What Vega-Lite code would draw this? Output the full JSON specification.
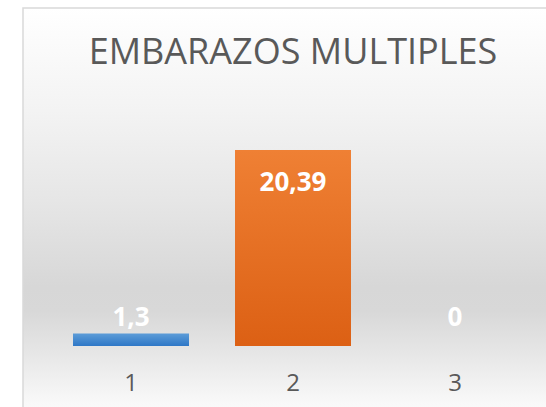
{
  "$schema": "https://vega.github.io/schema/vega-lite/v6.json",
  "autosize": {"type": "none"},
  "padding": {"left": 23, "top": 8, "right": 0, "bottom": 0},
  "width": 540,
  "height": 410,
  "background": "#ffffff",
  "title": {
    "text": "EMBARAZOS MULTIPLES",
    "font": "Open Sans",
    "fontSize": 36,
    "fontWeight": "normal",
    "color": "#595959",
    "anchor": "middle",
    "baseline": "alphabetic",
    "offset": -57,
    "dy": 35
  },
  "view": {
    "stroke": "#d9d9d9",
    "strokeWidth": 1.5,
    "fill": {
      "gradient": "linear",
      "x1": 0, "y1": 0, "x2": 0, "y2": 1,
      "stops": [
        {"offset": 0, "color": "#ffffff"},
        {"offset": 0.25, "color": "#f3f3f3"},
        {"offset": 0.47, "color": "#e6e6e6"},
        {"offset": 0.68, "color": "#d7d7d7"},
        {"offset": 0.74, "color": "#d8d8d8"},
        {"offset": 0.84, "color": "#e6e6e6"},
        {"offset": 0.96, "color": "#f8f8f8"},
        {"offset": 1, "color": "#fdfdfd"}
      ]
    }
  },
  "data": {
    "values": [
      {"cat": "1", "value": 1.3, "label": "1,3"},
      {"cat": "2", "value": 20.39, "label": "20,39"},
      {"cat": "3", "value": 0, "label": "0"}
    ]
  },
  "encoding": {
    "x": {
      "field": "cat",
      "type": "nominal",
      "sort": null,
      "scale": {"paddingInner": 0.284, "paddingOuter": 0.3087, "align": 0.5},
      "axis": {
        "title": null,
        "labelAngle": 0,
        "domain": false,
        "ticks": false,
        "tickSize": 0,
        "grid": false,
        "offset": -72,
        "labelPadding": 44,
        "labelBaseline": "alphabetic",
        "labelFont": "Open Sans",
        "labelFontSize": 24,
        "labelColor": "#595959"
      }
    }
  },
  "layer": [
    {
      "transform": [{"filter": "datum.cat == '1'"}],
      "mark": {
        "type": "bar",
        "color": {
          "gradient": "linear",
          "x1": 0, "y1": 0, "x2": 0, "y2": 1,
          "stops": [
            {"offset": 0, "color": "#5c9cd8"},
            {"offset": 1, "color": "#2e77c6"}
          ]
        }
      },
      "encoding": {
        "y": {
          "field": "value",
          "type": "quantitative",
          "scale": {"domain": [-7.49, 35.16], "nice": false, "zero": false},
          "axis": null
        }
      }
    },
    {
      "transform": [{"filter": "datum.cat == '2'"}],
      "mark": {
        "type": "bar",
        "color": {
          "gradient": "linear",
          "x1": 0, "y1": 0, "x2": 0, "y2": 1,
          "stops": [
            {"offset": 0, "color": "#ef8034"},
            {"offset": 1, "color": "#dc6014"}
          ]
        }
      },
      "encoding": {
        "y": {"field": "value", "type": "quantitative"}
      }
    },
    {
      "transform": [{"filter": "datum.value >= 5"}],
      "mark": {
        "type": "text",
        "font": "Open Sans",
        "fontSize": 26,
        "fontWeight": "bold",
        "color": "#ffffff",
        "baseline": "alphabetic",
        "dy": 41
      },
      "encoding": {
        "y": {"field": "value", "type": "quantitative"},
        "text": {"field": "label"}
      }
    },
    {
      "transform": [{"filter": "datum.value < 5"}],
      "mark": {
        "type": "text",
        "font": "Open Sans",
        "fontSize": 26,
        "fontWeight": "bold",
        "color": "#ffffff",
        "baseline": "alphabetic",
        "dy": -19.5
      },
      "encoding": {
        "y": {"datum": 0, "type": "quantitative"},
        "text": {"field": "label"}
      }
    }
  ]
}
